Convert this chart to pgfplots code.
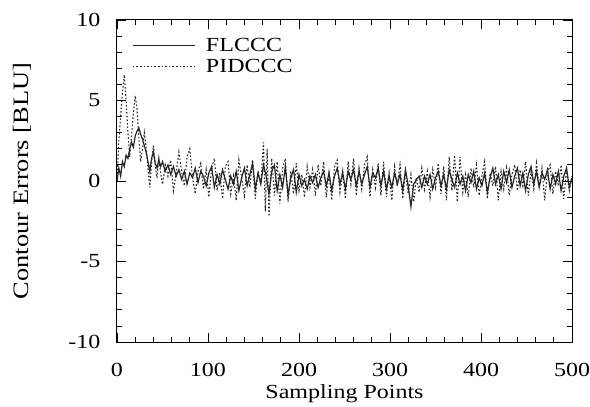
\documentclass[border=0pt]{standalone}
\usepackage{fontspec}
\setmainfont{Liberation Serif}[FakeStretch=1.2]
\usepackage{pgfplots}
\pgfplotsset{compat=1.18}

\pgfplotstableread{
x y
0 0
2 0.8
4 0.3
6 1.2
8 0.9
10 1.6
12 1.4
14 2.0
16 2.4
18 2.1
20 2.8
22 3.1
24 3.3
26 2.9
28 2.6
30 2.2
32 1.8
34 1.2
36 0.6
38 1.4
40 1.8
42 1.1
44 0.8
46 1.3
48 0.9
50 1.2
53 0.6
56 1.0
59 0.4
62 0.9
65 0.3
68 0.7
71 0.1
74 0.6
77 -0.2
80 0.5
83 0.2
86 0.8
89 -0.1
92 0.6
95 0.3
98 -0.3
101 0.5
104 0.9
107 -0.4
110 0.4
113 -0.2
116 0.7
119 0.1
122 -0.5
125 0.3
128 -0.2
131 0.6
134 -0.6
137 0.2
140 0.8
143 -0.3
146 0.4
149 1.1
152 -0.5
155 0.5
158 -0.2
161 1.0
164 0.3
167 -0.8
170 0.6
173 1.0
176 -0.6
179 0.4
182 -0.4
185 0.9
188 -0.9
191 0.2
194 0.7
197 -0.7
200 0.4
203 -0.3
206 0.1
209 -0.5
212 0.3
215 -0.1
218 0.4
221 -0.4
224 0.2
227 0.6
230 -0.3
233 0.5
236 -0.6
239 0.3
242 0.8
245 -0.2
248 0.5
251 -0.5
254 0.6
257 0.1
260 0.7
263 -0.3
266 0.6
269 -0.2
272 0.4
275 0.9
278 -0.4
281 0.5
284 0.2
287 0.8
290 -0.3
293 0.6
296 -0.5
299 0.3
302 -0.4
305 0.5
308 -0.2
311 0.4
314 -0.6
317 0.7
320 -0.3
323 -1.6
326 -0.2
329 0.1
332 0.3
335 -0.4
338 0.3
341 -0.2
344 0.4
347 -0.5
350 0.2
353 0.6
356 -0.3
359 0.4
362 -0.5
365 0.7
368 0.1
371 -0.4
374 0.5
377 -0.2
380 0.3
383 -0.6
386 0.4
389 -0.1
392 0.6
395 -0.5
398 0.2
401 -0.3
404 0.5
407 -0.7
410 0.2
413 0.8
416 -0.2
419 0.4
422 -0.5
425 0.6
428 -0.1
431 0.7
434 -0.4
437 0.3
440 0.8
443 -0.3
446 0.5
449 -0.6
452 0.4
455 0.9
458 -0.2
461 0.6
464 -0.4
467 0.5
470 0.1
473 0.7
476 -0.5
479 0.4
482 -0.2
485 0.6
488 -0.6
491 0.3
494 0.8
497 -0.4
500 0.2
}\flccc

\pgfplotstableread{
x y
0 0
2 2.5
4 4.0
6 5.5
8 6.6
10 5.0
12 3.0
14 1.5
16 2.8
18 4.2
20 5.3
22 4.5
24 2.7
26 1.2
28 2.0
30 3.0
32 2.1
34 0.8
36 -0.4
38 1.2
40 2.2
42 1.0
44 0.2
46 1.4
48 0.5
50 -0.2
53 1.0
56 0.3
59 1.3
62 -0.6
65 0.5
68 1.8
71 0.6
74 -0.3
77 1.5
80 2.0
83 0.2
86 -0.8
89 0.6
92 1.1
95 -0.5
98 0.7
101 -1.0
104 0.8
107 1.4
110 -0.6
113 0.5
116 -1.1
119 0.9
122 1.2
125 -0.8
128 0.3
131 -1.2
134 1.3
137 0.2
140 -0.9
143 1.0
146 -0.4
149 1.3
152 -1.1
155 0.6
158 -0.2
161 2.4
163 -1.9
165 2.0
167 -2.2
170 1.4
173 -0.9
176 1.2
179 -1.4
182 0.8
185 1.4
188 -1.3
191 0.6
194 -0.8
197 1.1
200 -0.6
203 0.4
206 -1.0
209 0.9
212 -0.4
215 0.7
218 -0.9
221 1.0
224 -0.3
227 1.2
230 -1.0
233 0.5
236 -1.2
239 0.9
242 1.3
245 -0.7
248 0.6
251 -1.1
254 1.2
257 -0.2
260 1.4
263 -0.9
266 0.8
269 -0.5
272 1.0
275 1.5
278 -1.0
281 0.7
284 -0.4
287 1.1
290 -0.9
293 1.2
296 -1.0
299 0.5
302 -1.2
305 0.9
308 -0.3
311 1.0
314 -1.1
317 0.6
320 -0.8
323 0.4
326 -1.3
329 0.2
332 -0.7
335 0.8
338 -0.5
341 0.6
344 -1.0
347 0.7
350 -0.4
353 1.1
356 -0.8
359 0.9
362 -1.2
365 1.5
368 -0.6
371 1.6
374 -1.3
377 1.5
380 -0.7
383 0.4
386 -1.0
389 0.8
392 -0.4
395 1.0
398 -0.9
401 0.3
404 1.2
407 -1.1
410 0.5
413 -0.3
416 0.9
419 -1.2
422 0.6
425 -0.5
428 0.8
431 -0.9
434 0.4
437 1.0
440 -0.6
443 0.7
446 -0.3
449 1.2
452 -0.9
455 0.6
458 -0.5
461 1.1
464 -0.4
467 0.8
470 -1.2
473 0.5
476 1.0
479 -0.8
482 0.6
485 -0.3
488 1.0
491 -1.1
494 0.7
497 -0.6
500 0.3
}\pidccc

\begin{document}
\begin{tikzpicture}
\begin{axis}[
    name=ax,
    scale only axis,
    width=455pt, height=322pt,
    xmin=0, xmax=500,
    ymin=-10, ymax=10,
    xtick={0,100,...,500},
    ytick={-10,-5,0,5,10},
    minor x tick num=4,
    minor y tick num=4,
    major tick length=9pt,
    minor tick length=5pt,
    tick style={black, line width=0.8pt},
    axis line style={line width=1pt},
    tick align=inside,
    /pgf/number format/assume math mode=true,
    ticklabel style={font=\fontsize{20}{23}\selectfont},
    xticklabel style={yshift=-18pt},
    yticklabel style={xshift=-13pt},
    xlabel style={font=\fontsize{20}{23}\selectfont},
    ylabel style={font=\fontsize{22}{25}\selectfont},
    xlabel={Sampling Points},
    ylabel={Contour Errors [BLU]},
    xlabel style={at={(axis description cs:0.5,0)}, anchor=center, yshift=-52pt},
    ylabel style={at={(axis description cs:0,0.5)}, anchor=center, yshift=95pt},
    legend style={draw=none, fill=none, at={(axis description cs:0,1)}, anchor=north west,
        xshift=15pt, yshift=-16pt,
        font=\fontsize{20}{23}\selectfont, row sep=2pt, inner sep=0pt},
    legend cell align=left,
    legend image code/.code={\draw[#1] (0cm,0cm) -- (2.2cm,0cm);},
]
\addplot[line width=1.2pt, color=black!85] table[x=x,y=y] {\flccc};
\addlegendentry{\hspace{8pt}FLCCC}
\addplot[line width=1.1pt, color=black!85, dash pattern=on 1.6pt off 2pt] table[x=x,y=y] {\pidccc};
\addlegendentry{\hspace{8pt}PIDCCC}
\end{axis}
\pgfresetboundingbox
\path ([shift={(-117pt,-64pt)}]ax.south west) rectangle ([shift={(18pt,20pt)}]ax.north east);
\end{tikzpicture}
\end{document}
